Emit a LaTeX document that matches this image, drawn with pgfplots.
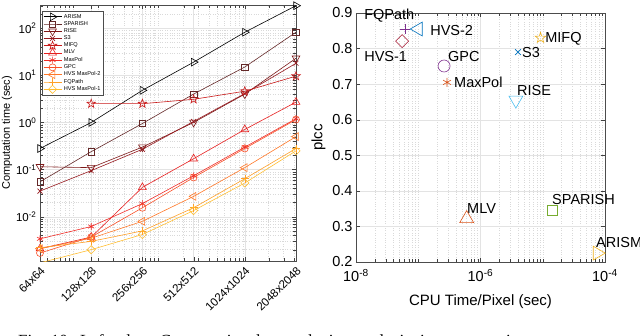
\documentclass[border=0pt]{standalone}
\usepackage{fontspec}
\setmainfont{Liberation Sans}
\newfontfamily\capserif{Liberation Serif}
\usepackage{pgfplots}
\pgfplotsset{compat=1.18}

% five-pointed open star, like matlab's pentagram
\pgfdeclareplotmark{pentagram}{%
  \pgfpathmoveto{\pgfqpointpolar{90}{\pgfplotmarksize}}%
  \pgfpathlineto{\pgfqpointpolar{126}{0.4\pgfplotmarksize}}%
  \pgfpathlineto{\pgfqpointpolar{162}{\pgfplotmarksize}}%
  \pgfpathlineto{\pgfqpointpolar{198}{0.4\pgfplotmarksize}}%
  \pgfpathlineto{\pgfqpointpolar{234}{\pgfplotmarksize}}%
  \pgfpathlineto{\pgfqpointpolar{270}{0.4\pgfplotmarksize}}%
  \pgfpathlineto{\pgfqpointpolar{306}{\pgfplotmarksize}}%
  \pgfpathlineto{\pgfqpointpolar{342}{0.4\pgfplotmarksize}}%
  \pgfpathlineto{\pgfqpointpolar{18}{\pgfplotmarksize}}%
  \pgfpathlineto{\pgfqpointpolar{54}{0.4\pgfplotmarksize}}%
  \pgfpathclose\pgfusepathqstroke}

% left plot colours (dark to light)
\definecolor{cA}{RGB}{0,0,0}
\definecolor{cB}{RGB}{100,40,40}
\definecolor{cC}{RGB}{125,25,25}
\definecolor{cD}{RGB}{150,25,30}
\definecolor{cE}{RGB}{200,25,25}
\definecolor{cF}{RGB}{230,30,30}
\definecolor{cG}{RGB}{240,45,40}
\definecolor{cH}{RGB}{250,80,40}
\definecolor{cI}{RGB}{255,120,40}
\definecolor{cJ}{RGB}{255,160,40}
\definecolor{cK}{RGB}{255,190,50}
% matlab default colours for the right plot
\definecolor{mblue}{RGB}{0,114,189}
\definecolor{morange}{RGB}{217,83,25}
\definecolor{myellow}{RGB}{237,177,32}
\definecolor{mpurple}{RGB}{126,47,142}
\definecolor{mgreen}{RGB}{119,172,48}
\definecolor{mcyan}{RGB}{77,190,238}
\definecolor{mred}{RGB}{162,20,47}

\tikzset{lbl/.style={anchor=west, inner sep=0pt, font=\fontsize{14.5}{16}\selectfont}}

\pgfplotsset{
  mystyle/.style={
    scale only axis,
    grid=both,
    major grid style={gray!22},
    minor grid style={gray!30, dotted},
    tick align=inside,
    tick style={gray!50!black},
    axis line style={gray!60!black},
    /pgf/number format/assume math mode=true,
  },
}

\begin{document}
\begin{tikzpicture}

% ---------- left: computation time ----------
\begin{axis}[
  mystyle,
  at={(40pt,-261pt)}, anchor=south west,
  width=256pt, height=256pt,
  xmode=log, ymode=log,
  xmin=4096, xmax=4194304,
  ymin=1.15e-3, ymax=310,
  xtick={4096,16384,65536,262144,1048576,4194304},
  xticklabels={64x64,128x128,256x256,512x512,1024x1024,2048x2048},
  minor xtick={5000,6000,7000,8000,9000,10000,20000,30000,40000,50000,60000,70000,80000,90000,
    100000,200000,300000,400000,500000,600000,700000,800000,900000,1000000,2000000,3000000,4000000},
  ytick={0.01,0.1,1,10,100},
  yticklabels={10\textsuperscript{-2},10\textsuperscript{-1},10\textsuperscript{0},10\textsuperscript{1},10\textsuperscript{2}},
  minor ytick={0.002,0.003,0.004,0.005,0.006,0.007,0.008,0.009,
    0.02,0.03,0.04,0.05,0.06,0.07,0.08,0.09,0.2,0.3,0.4,0.5,0.6,0.7,0.8,0.9,
    2,3,4,5,6,7,8,9,20,30,40,50,60,70,80,90,200,300},
  ticklabel style={font=\fontsize{11.5}{12}\selectfont},
  x tick label style={rotate=45, anchor=north east},
  ylabel={Computation time (sec)},
  ylabel style={font=\fontsize{11}{12}\selectfont, yshift=-3pt},
  every axis plot/.append style={line width=0.6pt},
  legend cell align=left,
  legend style={at={(0.008,0.977)}, anchor=north west,
    font=\fontsize{5.6}{6}\selectfont, row sep=-2.2pt, inner sep=1pt,
    draw=gray!60!black},
  legend image code/.code={\draw[mark repeat=2,mark phase=2,#1]
    plot coordinates {(0pt,0pt)(9pt,0pt)(18pt,0pt)};},
]
\addplot[cA, mark=triangle, mark size=4.5pt, mark options={rotate=-90}] coordinates {
  (4096,0.28) (16384,1.0) (65536,4.8) (262144,19) (1048576,82) (4194304,300)};
\addlegendentry{ARISM}
\addplot[cB, mark=square, mark size=3.2pt] coordinates {
  (4096,0.055) (16384,0.24) (65536,0.95) (262144,4.0) (1048576,15) (4194304,82)};
\addlegendentry{SPARISH}
\addplot[cC, mark=triangle, mark size=4.5pt, mark options={rotate=180}] coordinates {
  (4096,0.115) (16384,0.11) (65536,0.30) (262144,1.0) (1048576,4.0) (4194304,23)};
\addlegendentry{RISE}
\addplot[cD, mark=x, mark size=3.5pt] coordinates {
  (4096,0.035) (16384,0.095) (65536,0.27) (262144,1.05) (1048576,4.1) (4194304,18)};
\addlegendentry{S3}
\addplot[cE, mark=pentagram, mark size=4.5pt] coordinates {
  (16384,2.5) (65536,2.5) (262144,3.1) (1048576,4.6) (4194304,9.6)};
\addlegendentry{MIFQ}
\addplot[cF, mark=triangle, mark size=4.5pt] coordinates {
  (4096,0.0021) (16384,0.0037) (65536,0.042) (262144,0.17) (1048576,0.71) (4194304,2.7)};
\addlegendentry{MLV}
\addplot[cG, mark=asterisk, mark size=3.5pt] coordinates {
  (4096,0.0034) (16384,0.0062) (65536,0.019) (262144,0.074) (1048576,0.30) (4194304,1.2)};
\addlegendentry{MaxPol}
\addplot[cH, mark=o, mark size=3.5pt] coordinates {
  (4096,0.0017) (16384,0.0037) (65536,0.0155) (262144,0.068) (1048576,0.28) (4194304,1.15)};
\addlegendentry{GPC}
\addplot[cI, mark=triangle, mark size=4.5pt, mark options={rotate=90}] coordinates {
  (4096,0.0021) (16384,0.0035) (65536,0.008) (262144,0.027) (1048576,0.11) (4194304,0.5)};
\addlegendentry{HVS MaxPol-2}
\addplot[cJ, mark=+, mark size=4pt] coordinates {
  (4096,0.0022) (16384,0.003) (65536,0.005) (262144,0.0155) (1048576,0.064) (4194304,0.28)};
\addlegendentry{FQPath}
\addplot[cK, mark=square, mark size=2.9pt, mark options={rotate=45}] coordinates {
  (4096,0.00105) (16384,0.002) (65536,0.0042) (262144,0.0135) (1048576,0.052) (4194304,0.25)};
\addlegendentry{HVS MaxPol-1}
\end{axis}

% ---------- right: plcc vs cpu time ----------
\begin{axis}[
  mystyle,
  at={(356pt,-262pt)}, anchor=south west,
  width=249pt, height=249pt,
  xmode=log,
  xmin=1e-8, xmax=1e-4, ymin=0.2, ymax=0.9,
  clip=false,
  xtick={1e-8,1e-6,1e-4},
  xticklabels={10\textsuperscript{-8},10\textsuperscript{-6},10\textsuperscript{-4}},
  minor xtick={2e-8,3e-8,4e-8,5e-8,6e-8,7e-8,8e-8,9e-8,1e-7,2e-7,3e-7,4e-7,5e-7,6e-7,7e-7,8e-7,9e-7,
    2e-6,3e-6,4e-6,5e-6,6e-6,7e-6,8e-6,9e-6,1e-5,2e-5,3e-5,4e-5,5e-5,6e-5,7e-5,8e-5,9e-5},
  ytick={0.2,0.3,0.4,0.5,0.6,0.7,0.8,0.9},
  yticklabels={0.2,0.3,0.4,0.5,0.6,0.7,0.8,0.9},
  ticklabel style={font=\fontsize{14.5}{16}\selectfont},
  xticklabel style={yshift=-4pt},
  xlabel={CPU Time/Pixel (sec)},
  ylabel={plcc},
  label style={font=\fontsize{15}{17}\selectfont},
  xlabel style={yshift=-6pt},
  every axis plot/.append style={only marks, line width=0.6pt},
]
\addplot[mpurple, mark=+, mark size=5pt] coordinates {(6.1e-8,0.855)};
\addplot[mblue, mark=triangle, mark size=8pt, mark options={rotate=90}] coordinates {(1.0e-7,0.855)};
\addplot[mred, mark=square, mark size=4.6pt, mark options={rotate=45}] coordinates {(5.5e-8,0.821)};
\addplot[mpurple, mark=o, mark size=6pt] coordinates {(2.6e-7,0.751)};
\addplot[morange, mark=asterisk, mark size=4.5pt] coordinates {(2.9e-7,0.705)};
\addplot[mblue, mark=x, mark size=4pt] coordinates {(4.0e-6,0.79)};
\addplot[myellow, mark=pentagram, mark size=5.5pt] coordinates {(9.2e-6,0.83)};
\addplot[mcyan, mark=triangle, mark size=8pt, mark options={rotate=180}] coordinates {(3.7e-6,0.655)};
\addplot[morange, mark=triangle, mark size=8pt] coordinates {(6.0e-7,0.322)};
\addplot[mgreen, mark=square, mark size=5pt] coordinates {(1.4e-5,0.346)};
\addplot[myellow, mark=triangle, mark size=8pt, mark options={rotate=-90}] coordinates {(7.5e-5,0.225)};

\node[lbl] at (axis cs:1.35e-8,0.892) {FQPath};
\node[lbl] at (axis cs:1.55e-7,0.852) {HVS-2};
\node[lbl] at (axis cs:1.35e-8,0.779) {HVS-1};
\node[lbl] at (axis cs:3.0e-7,0.779) {GPC};
\node[lbl] at (axis cs:3.75e-7,0.706) {MaxPol};
\node[lbl] at (axis cs:4.64e-6,0.790) {S3};
\node[lbl] at (axis cs:1.09e-5,0.827) {MIFQ};
\node[lbl] at (axis cs:3.86e-6,0.681) {RISE};
\node[lbl] at (axis cs:6.07e-7,0.349) {MLV};
\node[lbl] at (axis cs:1.41e-5,0.377) {SPARISH};
\node[lbl] at (axis cs:7.16e-5,0.256) {ARISM};
\end{axis}

% caption, cut off at the bottom like the source
\begin{scope}
\clip (0pt,-300pt) rectangle (640pt,-335pt);
\node[anchor=base west, inner sep=0pt, font=\capserif\fontsize{17}{20}\selectfont]
  at (18pt,-346pt) {Fig. 10.};
\node[anchor=base west, inner sep=0pt, font=\capserif\fontsize{17}{20}\selectfont]
  at (80pt,-346pt) {\spaceskip=0.55em Left plot: Computational complexity analysis in computation};
\end{scope}

% fix the page to the reference frame
\pgfresetboundingbox
\useasboundingbox (0pt,0pt) rectangle (640pt,-335pt);
\end{tikzpicture}
\end{document}
